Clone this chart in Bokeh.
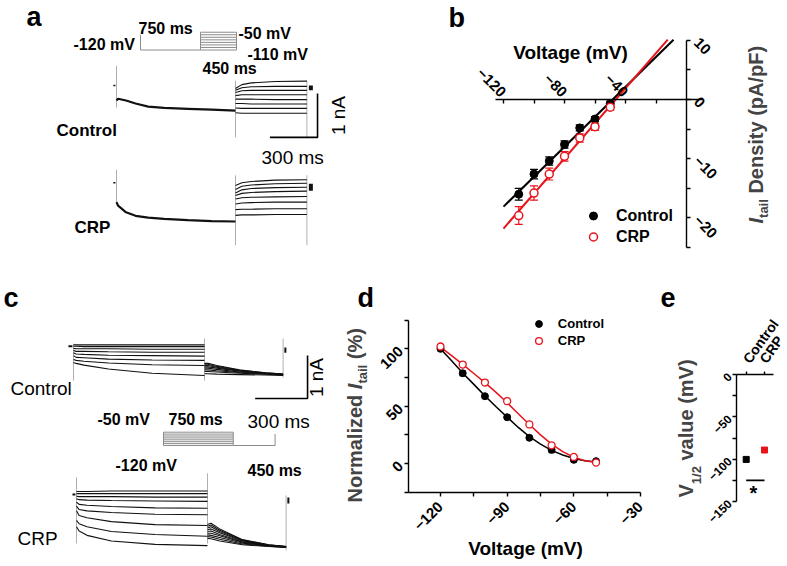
import math
from bokeh.plotting import figure
from bokeh.models import (Range1d, LinearAxis, FixedTicker, Label, Legend, LegendItem,
                          Whisker, ColumnDataSource, TeeHead)
from bokeh.layouts import column, row
from bokeh.embed import file_html
from bokeh.resources import INLINE

FONT = "Liberation Sans"
RED = "#e8141c"
GRAY = "#8c8c8c"
TRACE = "#111111"

# ---------------- data ----------------
# panel a : voltage protocol (mV), currents in nA relative to holding, time in ms
A_PROTO_HOLD = -60
A_PROTO_PRE = -120
A_PROTO_STEPS = [-50, -60, -70, -80, -90, -100, -110, -120]
A_PROTO_TIMES = [0, 750, 1200]

A_PRE_T = [0, 10, 60, 120, 200, 300, 450, 600, 750]
A_CTL_PRE = [-0.34, -0.30, -0.34, -0.41, -0.48, -0.51, -0.53, -0.55, -0.57]
A_CRP_PRE = [-0.44, -0.52, -0.67, -0.75, -0.79, -0.82, -0.85, -0.87, -0.88]
A_TAIL_T = [750, 790, 850, 1000, 1200]
A_CTL_TAIL = [
    [-0.07, 0.02, 0.06, 0.09, 0.10],
    [-0.11, -0.05, -0.03, -0.02, -0.02],
    [-0.16, -0.12, -0.11, -0.11, -0.11],
    [-0.23, -0.21, -0.21, -0.21, -0.21],
    [-0.31, -0.31, -0.31, -0.32, -0.32],
    [-0.41, -0.41, -0.42, -0.42, -0.42],
    [-0.51, -0.52, -0.52, -0.52, -0.52],
    [-0.62, -0.63, -0.63, -0.63, -0.63],
]
A_CRP_TAIL = [
    [-0.06, 0.00, 0.03, 0.06, 0.07],
    [-0.15, -0.08, -0.05, -0.02, -0.01],
    [-0.23, -0.16, -0.13, -0.11, -0.10],
    [-0.29, -0.24, -0.22, -0.20, -0.19],
    [-0.37, -0.34, -0.33, -0.32, -0.31],
    [-0.48, -0.46, -0.45, -0.44, -0.44],
    [-0.61, -0.60, -0.60, -0.59, -0.59],
    [-0.74, -0.73, -0.73, -0.72, -0.72],
]
A_ART_T = [0, 750, 1200]
A_CTL_ART_HI = [0.45, 0.11, 0.11]
A_CTL_ART_LO = [-0.50, -1.18, -1.18]
A_CRP_ART_HI = [0.30, 0.17, 0.17]
A_CRP_ART_LO = [-0.47, -1.42, -1.42]
A_HOLD_T = [-20, -7]
A_END_T = [1225, 1225]
A_CTL_END = [0.00, -0.11]
A_CRP_END = [-0.02, -0.18]

# panel c
C_PROTO_STEPS = [-50, -60, -70, -80, -90, -100, -110, -120]
C_PROTO_TAIL = -120
C_PROTO_RETURN = -60
C_PROTO_TIMES = [0, 750, 1200]
C_PRE_T = [0, 15, 60, 200, 450, 750]
C_CTL_PRE = [
    [0.03, 0.03, 0.03, 0.03, 0.03, 0.03],
    [0.00, 0.00, -0.01, -0.01, -0.01, -0.01],
    [-0.05, -0.06, -0.06, -0.06, -0.07, -0.07],
    [-0.10, -0.12, -0.12, -0.13, -0.14, -0.14],
    [-0.15, -0.18, -0.19, -0.21, -0.22, -0.23],
    [-0.22, -0.26, -0.27, -0.30, -0.32, -0.33],
    [-0.31, -0.33, -0.35, -0.39, -0.43, -0.45],
    [-0.38, -0.40, -0.44, -0.53, -0.63, -0.68],
]
C_CRP_PRE = [
    [0.07, 0.07, 0.07, 0.08, 0.08, 0.08],
    [0.02, 0.02, 0.02, 0.02, 0.02, 0.02],
    [-0.04, -0.05, -0.05, -0.05, -0.06, -0.06],
    [-0.10, -0.12, -0.13, -0.14, -0.15, -0.16],
    [-0.18, -0.23, -0.25, -0.28, -0.31, -0.32],
    [-0.27, -0.35, -0.38, -0.42, -0.46, -0.47],
    [-0.38, -0.49, -0.54, -0.63, -0.70, -0.72],
    [-0.60, -0.68, -0.75, -0.86, -0.93, -0.97],
    [-0.75, -0.85, -0.95, -1.08, -1.16, -1.19],
]
C_TAIL_T = [750, 770, 820, 950, 1100, 1200]
C_CTL_TAIL = [
    [-0.40, -0.40, -0.45, -0.55, -0.62, -0.65],
    [-0.42, -0.42, -0.47, -0.56, -0.62, -0.65],
    [-0.45, -0.45, -0.49, -0.57, -0.63, -0.66],
    [-0.48, -0.48, -0.51, -0.58, -0.63, -0.66],
    [-0.51, -0.51, -0.54, -0.60, -0.64, -0.66],
    [-0.55, -0.55, -0.57, -0.61, -0.64, -0.67],
    [-0.59, -0.59, -0.60, -0.63, -0.65, -0.67],
    [-0.64, -0.64, -0.65, -0.66, -0.67, -0.68],
]
C_CRP_TAIL = [
    [-0.70, -0.67, -0.80, -1.05, -1.17, -1.21],
    [-0.74, -0.71, -0.83, -1.06, -1.17, -1.21],
    [-0.78, -0.75, -0.86, -1.07, -1.18, -1.21],
    [-0.82, -0.80, -0.89, -1.08, -1.18, -1.22],
    [-0.86, -0.85, -0.93, -1.10, -1.18, -1.22],
    [-0.90, -0.90, -0.96, -1.11, -1.19, -1.22],
    [-0.94, -0.95, -1.00, -1.13, -1.19, -1.22],
    [-0.98, -0.99, -1.04, -1.15, -1.20, -1.23],
    [-1.02, -1.03, -1.08, -1.17, -1.21, -1.23],
]
C_ART_T = [0, 750, 1200]
C_CTL_ART_HI = [0.06, 0.18, 0.18]
C_CTL_ART_LO = [-0.80, -0.80, -0.73]
C_CRP_ART_HI = [0.40, 0.49, -0.02]
C_CRP_ART_LO = [-1.14, -1.14, -1.30]
C_CTL_HOLD_T = [-29, -6]
C_CRP_HOLD_T = [-23, -6]
C_END_T = [1213, 1213]
C_CTL_END = [-0.03, -0.15]
C_CRP_END = [-0.07, -0.21]

SCALE_MS = 300
SCALE_NA = 1

# panel b : I-V of tail current density
B_VOLT = [-110, -100, -90, -80, -70, -60, -50]
B_CTL = [-16.0, -12.6, -10.4, -7.6, -4.8, -3.3, -0.7]
B_CTL_ERR = [1.0, 0.8, 0.7, 0.6, 0.5, 0.4, 0.4]
B_CRP = [-19.6, -15.8, -12.6, -9.6, -6.5, -4.6, -1.3]
B_CRP_ERR = [1.5, 1.2, 1.0, 0.8, 0.7, 0.6, 0.5]
B_FIT_CTL_V = [-120, -8.5]
B_FIT_CTL = [-18.1, 10.1]
B_FIT_CRP_V = [-120, -12.3]
B_FIT_CRP = [-21.8, 10.1]

# panel d : normalized tail current
D_VOLT = [-120, -110, -100, -90, -80, -70, -60, -50]
D_CTL = [100, 78.7, 58.7, 40.4, 22.5, 12.0, 3.3, 2.1]
D_CTL_ERR = [1.5, 2.0, 1.5, 2.0, 1.5, 2.5, 1.5, 1.0]
D_CRP = [102, 86.3, 70.6, 54.4, 34.1, 15.9, 5.8, 0.9]
D_CRP_ERR = [1.5, 2.0, 2.0, 2.5, 2.0, 1.5, 1.0, 1.0]
D_FIT_V = [-120, -115, -110, -105, -100, -95, -90, -85, -80, -75, -70, -65, -60, -55, -50]
D_FIT_CTL = [100, 89.5, 79, 69, 59, 49.5, 40.5, 31.5, 23.5, 17, 11.5, 7.5, 4.5, 2.5, 1.5]
D_FIT_CRP = [101.5, 94, 86.5, 78.5, 70.5, 62, 53, 43.5, 34, 25, 17, 10.5, 5.5, 2.5, 1]

# panel e : V1/2
E_GROUPS = ["Control", "CRP"]
E_POS = [1, 2]
E_V12 = [-100.3, -89.2]
E_ERR = [2.0, 2.3]
E_SIG_Y = -125

# ---------------- helpers ----------------
W_BOLD = {' ': 278, '(': 333, ')': 333, '%': 889, '/': 278, 'A': 722, 'C': 722, 'D': 722,
          'F': 611, 'I': 278, 'N': 722, 'P': 667, 'R': 722, 'V': 667, 'a': 556, 'd': 611,
          'e': 556, 'i': 278, 'l': 278, 'm': 889, 'n': 611, 'o': 611, 'p': 611, 'r': 389,
          's': 556, 't': 333, 'u': 611, 'v': 556, 'y': 556, 'z': 500}


def text_w(t, size):
    return sum(W_BOLD.get(ch, 556) for ch in t) * size / 1000.0


def rng(px0, v0, ppu, length):
    return Range1d(v0 - px0 / ppu, v0 + (length - px0) / ppu)


def mapper(rx0, xv0, xppu, ry0, yv0, yppu):
    return lambda rx, ry: (xv0 + (rx - rx0) / xppu, yv0 - (ry - ry0) / yppu)


def lab(p, m, rx, ry, text, size, style="bold", align="left", angle=0.0, color="black"):
    x, y = m(rx, ry)
    p.add_layout(Label(x=x, y=y, text=text, text_font=FONT, text_font_size=f"{size}px",
                       text_font_style=style, text_align=align, text_baseline="middle",
                       angle=angle, text_color=color))


def vtitle(p, m, rx_main, rx_sub, ry0, pieces):
    ry = ry0
    for text, size, style, sub, gap in pieces:
        ry -= gap
        x, y = m(rx_sub if sub else rx_main, ry)
        p.add_layout(Label(x=x, y=y, text=text, text_font=FONT, text_font_size=f"{size}px",
                           text_font_style=style, text_align="left", text_baseline="middle",
                           angle=math.pi / 2))
        ry -= text_w(text, size)


def canvas(w, h, xr, yr):
    p = figure(width=w, height=h, x_range=xr, y_range=yr,
               output_backend="svg", toolbar_location=None, title=None,
               x_axis_location=None, y_axis_location=None, min_border=0)
    p.min_border_left = p.min_border_right = p.min_border_top = p.min_border_bottom = 0
    p.outline_line_color = None
    p.background_fill_color = "white"
    p.border_fill_color = "white"
    p.xgrid.visible = False
    p.ygrid.visible = False
    return p


def axis(p, side, loc, bounds, ticks, minor, size, orient, tick_in=0, tick_out=4, standoff=4):
    ax = LinearAxis(fixed_location=loc, bounds=bounds,
                    ticker=FixedTicker(ticks=ticks, minor_ticks=minor))
    ax.axis_line_width = 1.4
    ax.axis_line_color = "black"
    ax.major_tick_line_width = 1.4
    ax.minor_tick_line_width = 1.4
    ax.major_tick_in = tick_in
    ax.major_tick_out = tick_out
    ax.minor_tick_in = tick_in
    ax.minor_tick_out = tick_out
    ax.major_label_text_font = FONT
    ax.major_label_text_font_size = f"{size}px"
    ax.major_label_text_font_style = "bold"
    ax.major_label_text_color = "black"
    ax.major_label_orientation = orient
    ax.major_label_standoff = standoff
    p.add_layout(ax, side)
    return ax


def legend(p, items, loc, gw, gh, standoff, size):
    p.add_layout(Legend(items=[LegendItem(label=l, renderers=[r]) for l, r in items],
                        location=loc, padding=0, margin=0, spacing=0,
                        glyph_width=gw, glyph_height=gh, label_height=gh, label_standoff=standoff,
                        label_text_font=FONT, label_text_font_size=f"{size}px",
                        label_text_font_style="bold", label_text_color="black",
                        border_line_color=None, background_fill_alpha=0))


def whiskers(p, xs, vals, errs, col, head):
    src = ColumnDataSource(dict(x=xs, lo=[v - e for v, e in zip(vals, errs)],
                                hi=[v + e for v, e in zip(vals, errs)]))
    p.add_layout(Whisker(source=src, base="x", lower="lo", upper="hi", line_color=col, line_width=1.2,
                         upper_head=TeeHead(size=head, line_color=col, line_width=1.2),
                         lower_head=TeeHead(size=head, line_color=col, line_width=1.2)))


TOP_H, BOT_H = 280, 285
BOT_Y1 = TOP_H + BOT_H  # bottom edge of lower row in page pixels

# ---------------- panel a ----------------
pa = canvas(400, TOP_H, Range1d(0, 400), Range1d(0, TOP_H))
ma = mapper(0, 0, 1, TOP_H, 0, 1)
pa.extra_x_ranges = {"ms": rng(116, 0, 119 / 750, 400), "pt": rng(140, 0, 0.08, 400)}
pa.extra_y_ranges = {"ctl": rng(TOP_H - 85, 0, 44, TOP_H), "crp": rng(TOP_H - 182.3, 0, 44, TOP_H),
                     "pv": rng(TOP_H - 49.5, -120, 0.254, TOP_H)}

pa.line([A_PROTO_TIMES[0]] * 2 + [A_PROTO_TIMES[1]], [A_PROTO_HOLD, A_PROTO_PRE, A_PROTO_PRE],
        x_range_name="pt", y_range_name="pv", line_color=GRAY, line_width=1)
pa.multi_line([A_PROTO_TIMES[1:]] * len(A_PROTO_STEPS), [[v, v] for v in A_PROTO_STEPS],
              x_range_name="pt", y_range_name="pv", line_color=GRAY, line_width=1)
pa.segment(x0=A_PROTO_TIMES[1:], y0=[min(A_PROTO_STEPS)] * 2, x1=A_PROTO_TIMES[1:],
           y1=[max(A_PROTO_STEPS)] * 2, x_range_name="pt", y_range_name="pv",
           line_color=GRAY, line_width=1)

for grp, pre, tails, hi, lo, endv in (("ctl", A_CTL_PRE, A_CTL_TAIL, A_CTL_ART_HI, A_CTL_ART_LO, A_CTL_END),
                                      ("crp", A_CRP_PRE, A_CRP_TAIL, A_CRP_ART_HI, A_CRP_ART_LO, A_CRP_END)):
    pa.segment(x0=A_ART_T, y0=lo, x1=A_ART_T, y1=hi, x_range_name="ms", y_range_name=grp,
               line_color="#b0b0b0", line_width=1)
    pa.line(A_PRE_T, pre, x_range_name="ms", y_range_name=grp, line_color=TRACE, line_width=2.2)
    pa.multi_line([A_TAIL_T] * len(tails), tails, x_range_name="ms", y_range_name=grp,
                  line_color=TRACE, line_width=1.1)
    pa.line(A_HOLD_T, [0, 0], x_range_name="ms", y_range_name=grp, line_color=TRACE, line_width=1.5)
    pa.line(A_END_T, endv, x_range_name="ms", y_range_name=grp, line_color=TRACE, line_width=4)

sb_t1, sb_i0 = 1267, -1.18
pa.line([sb_t1 - SCALE_MS, sb_t1, sb_t1], [sb_i0, sb_i0, sb_i0 + SCALE_NA],
        x_range_name="ms", y_range_name="ctl", line_color="black", line_width=1.6)

lab(pa, ma, 26, 16, "a", 27)
lab(pa, ma, 73, 44, "-120 mV", 16)
lab(pa, ma, 138, 27.5, "750 ms", 16)
lab(pa, ma, 238, 32.5, "-50 mV", 16)
lab(pa, ma, 247, 53.5, "-110 mV", 16)
lab(pa, ma, 202, 68, "450 ms", 16)
lab(pa, ma, 56, 130, "Control", 17)
lab(pa, ma, 74, 226.7, "CRP", 17)
lab(pa, ma, 261, 157, "300 ms", 19, style="normal")
lab(pa, ma, 338, 115, "1 nA", 19, style="normal", align="center", angle=math.pi / 2)

# ---------------- panel b ----------------
pb = canvas(387, TOP_H, rng(686 - 400, 0, 1.525, 387), rng(TOP_H - 99, 0, 5.92, TOP_H))
mb = mapper(686, 0, 1.525, 99, 0, 5.92)
axis(pb, "above", 0, (-125, 10.5), [-120, -80, -40], [-100, -60, -20], 15, -math.pi / 4,
     tick_in=4, tick_out=0, standoff=5)
axis(pb, "right", 0, (-25, 10), [-20, -10, 0, 10], [-25, -15, -5, 5], 15, -math.pi / 4,
     tick_in=0, tick_out=4, standoff=6)

pb.line(B_FIT_CTL_V, B_FIT_CTL, line_color="black", line_width=2)
pb.line(B_FIT_CRP_V, B_FIT_CRP, line_color=RED, line_width=2)
whiskers(pb, B_VOLT, B_CTL, B_CTL_ERR, "black", 8)
whiskers(pb, B_VOLT, B_CRP, B_CRP_ERR, RED, 8)
rc = pb.scatter(B_VOLT, B_CTL, marker="circle", size=8, fill_color="black", line_color="black")
rr = pb.scatter(B_VOLT, B_CRP, marker="circle", size=8, fill_color="white", line_color=RED, line_width=1.5)
legend(pb, [("Control", rc), ("CRP", rr)], (593 - 10 - 400, TOP_H - 247), 20, 21, 13, 16)

lab(pb, mb, 448, 17, "b", 27)
lab(pb, mb, 570, 52, "Voltage (mV)", 19, align="center")
vtitle(pb, mb, 755, 763, 223, [("I", 20, "bold italic", False, 0),
                               ("tail", 13, "bold", True, 0),
                               ("Density (pA/pF)", 20, "bold", False, text_w(" ", 20))])

# ---------------- panel c ----------------
pc = canvas(330, BOT_H, Range1d(0, 330), Range1d(0, BOT_H))
mc = mapper(0, 0, 1, BOT_Y1, 0, 1)
sc = 131 / 750
pc.extra_x_ranges = {"ms": rng(73, 0, sc, 330), "ms2": rng(76, 0, sc, 330),
                     "pt": rng(163, 0, 0.093, 330)}
pc.extra_y_ranges = {"ctl": rng(BOT_Y1 - 345.7, 0, 43, BOT_H), "crp": rng(BOT_Y1 - 494, 0, 43, BOT_H),
                     "pv": rng(BOT_Y1 - 445, -120, 0.19, BOT_H)}

pc.multi_line([C_PROTO_TIMES[:2]] * len(C_PROTO_STEPS), [[v, v] for v in C_PROTO_STEPS],
              x_range_name="pt", y_range_name="pv", line_color=GRAY, line_width=1)
pc.segment(x0=C_PROTO_TIMES[:2], y0=[min(C_PROTO_STEPS)] * 2, x1=C_PROTO_TIMES[:2],
           y1=[max(C_PROTO_STEPS)] * 2, x_range_name="pt", y_range_name="pv",
           line_color=GRAY, line_width=1)
pc.line([C_PROTO_TIMES[1], C_PROTO_TIMES[2], C_PROTO_TIMES[2]],
        [C_PROTO_TAIL, C_PROTO_TAIL, C_PROTO_RETURN],
        x_range_name="pt", y_range_name="pv", line_color=GRAY, line_width=1)

for grp, xr, pre, tails, hi, lo, hold, endv in (
        ("ctl", "ms", C_CTL_PRE, C_CTL_TAIL, C_CTL_ART_HI, C_CTL_ART_LO, C_CTL_HOLD_T, C_CTL_END),
        ("crp", "ms2", C_CRP_PRE, C_CRP_TAIL, C_CRP_ART_HI, C_CRP_ART_LO, C_CRP_HOLD_T, C_CRP_END)):
    pc.segment(x0=C_ART_T, y0=lo, x1=C_ART_T, y1=hi, x_range_name=xr, y_range_name=grp,
               line_color="#b0b0b0", line_width=1)
    pc.multi_line([C_PRE_T] * len(pre), pre, x_range_name=xr, y_range_name=grp,
                  line_color=TRACE, line_width=1.1)
    pc.multi_line([C_TAIL_T] * len(tails), tails, x_range_name=xr, y_range_name=grp,
                  line_color=TRACE, line_width=1.1)
    pc.line(hold, [0, 0], x_range_name=xr, y_range_name=grp, line_color=TRACE, line_width=2)
    pc.line(C_END_T, endv, x_range_name=xr, y_range_name=grp, line_color=TRACE, line_width=2)

sc_t1, sc_i0 = 1340, -1.217
pc.line([sc_t1 - SCALE_MS, sc_t1, sc_t1], [sc_i0, sc_i0, sc_i0 + SCALE_NA],
        x_range_name="ms", y_range_name="ctl", line_color="black", line_width=1.6)

lab(pc, mc, 3, 297, "c", 27)
lab(pc, mc, 10, 388, "Control", 19, style="normal")
lab(pc, mc, 316, 377, "1 nA", 19, style="normal", align="center", angle=math.pi / 2)
lab(pc, mc, 247, 421, "300 ms", 19, style="normal")
lab(pc, mc, 97, 419, "-50 mV", 16)
lab(pc, mc, 168, 419, "750 ms", 16)
lab(pc, mc, 115, 465, "-120 mV", 16)
lab(pc, mc, 247, 470, "450 ms", 16)
lab(pc, mc, 17, 538, "CRP", 19, style="normal")

# ---------------- panel d ----------------
d_ppx = 2.2222
pdf = canvas(330, BOT_H, rng(440 - 330, -120, d_ppx, 330), rng(BOT_Y1 - 348.3, 100, 1.148, BOT_H))
md = mapper(440, -120, d_ppx, 348.3, 100, 1.148)
d_xleft, d_ybot = md(408, 491.7)
axis(pdf, "left", d_xleft, (-25, 125), [0, 50, 100], [-25, 25, 75, 125], 15, math.pi / 4, standoff=4)
axis(pdf, "below", d_ybot, (d_xleft, -30), [-120, -90, -60, -30], [-105, -75, -45], 15, math.pi / 4,
     standoff=8)

pdf.line(D_FIT_V, D_FIT_CTL, line_color="black", line_width=1.5)
pdf.line(D_FIT_V, D_FIT_CRP, line_color=RED, line_width=1.5)
whiskers(pdf, D_VOLT, D_CTL, D_CTL_ERR, "black", 6)
whiskers(pdf, D_VOLT, D_CRP, D_CRP_ERR, RED, 6)
dc = pdf.scatter(D_VOLT, D_CTL, marker="circle", size=7, fill_color="black", line_color="black")
dr = pdf.scatter(D_VOLT, D_CRP, marker="circle", size=7, fill_color="white", line_color=RED, line_width=1.3)
legend(pdf, [("Control", dc), ("CRP", dr)], (538.3 - 8.5 - 330, BOT_Y1 - 348.8), 17, 17, 11, 13)

lab(pdf, md, 357, 297, "d", 27)
lab(pdf, md, 525, 548, "Voltage (mV)", 19, align="center")
vtitle(pdf, md, 354, 362, 502, [("Normalized", 20, "bold", False, 0),
                                ("I", 20, "bold italic", False, text_w(" ", 20)),
                                ("tail", 13, "bold", True, 0),
                                ("(%)", 20, "bold", False, text_w(" ", 20))])

# ---------------- panel e ----------------
E_W = 126
e_ppy = 127 / 150
pe = canvas(E_W, BOT_H, rng(745.7 - 660, 1, 18.3, E_W), rng(BOT_Y1 - 374, 0, e_ppy, BOT_H))
me = mapper(745.7, 1, 18.3, 374, 0, e_ppy)
e_xleft, _ = me(736, 374)
e_xright, _ = me(773, 374)
axis(pe, "left", e_xleft, (-150, 0), [-150, -100, -50, 0], [-125, -75, -25], 12, math.pi / 4, standoff=3)
ex = axis(pe, "above", 0, (e_xleft, e_xright), E_POS, [], 14, 0.95, tick_out=3, standoff=10)
ex.major_label_overrides = {p: g for p, g in zip(E_POS, E_GROUPS)}

whiskers(pe, E_POS, E_V12, E_ERR, "black", 6)
pe.scatter(x="x", y="v", source=ColumnDataSource(dict(x=E_POS, v=E_V12, c=["black", RED])),
           marker="square", size=6, fill_color="c", line_color="c")
pe.line(E_POS, [E_SIG_Y] * 2, line_color="black", line_width=1.6)
lab(pe, me, 753, 492, "*", 20, align="center")
lab(pe, me, 660, 297, "e", 27)
vtitle(pe, me, 685, 696, 497, [("V", 20, "bold", False, 0),
                               ("1/2", 13, "bold", True, 0),
                               ("value (mV)", 20, "bold", False, text_w(" ", 20))])

layout = column(row(pa, pb), row(pc, pdf, pe))
open("out.html", "w").write(file_html(layout, INLINE))
